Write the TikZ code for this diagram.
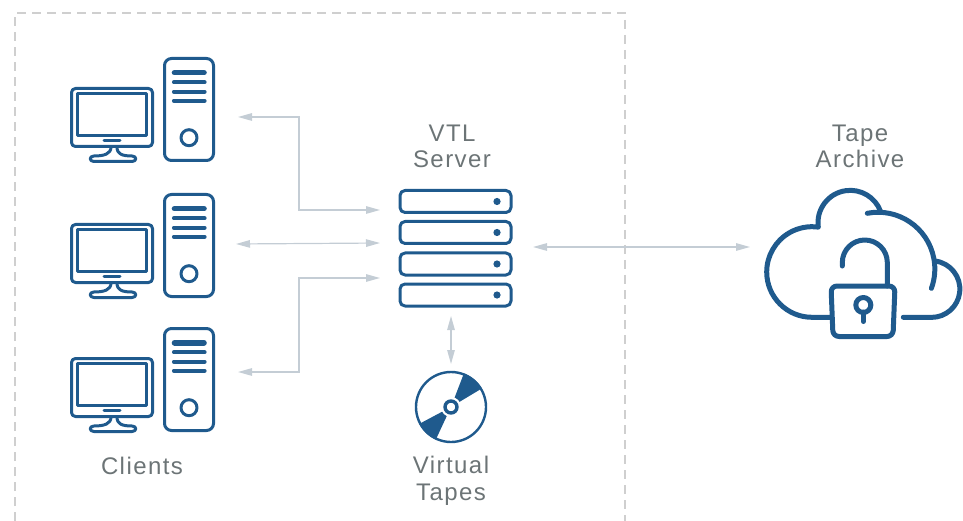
\documentclass[tikz,border=0pt]{standalone}
\usepackage{fontspec}
\setmainfont[LetterSpace=6]{Liberation Sans}
\usetikzlibrary{arrows.meta}
\definecolor{iconblue}{HTML}{1F5A8D}
\definecolor{linkgray}{HTML}{C4CDD5}
\definecolor{boxgray}{HTML}{CFCFCF}
\definecolor{labelgray}{HTML}{6C7476}
\tikzset{
  icon/.style={draw=iconblue,line width=3pt,line join=round,line cap=round},
  cloudline/.style={draw=iconblue,line width=5pt,line cap=round,line join=round},
  link/.style={draw=linkgray,line width=1.2pt,{Triangle[length=14pt,width=7.5pt]}-{Triangle[length=14pt,width=7.5pt]}},
  caption/.style={text=labelgray,font=\fontsize{24}{26}\selectfont,align=center,inner sep=0pt},
  client/.pic={
    \draw[icon,rounded corners=4pt] (71.5,88.5) rectangle (152.5,146.5);
    \draw[icon] (77.5,93.5) rectangle (146.5,135.5);
    \draw[icon] (104,140.5) -- (120,140.5);
    \draw[icon] (111,147) .. controls (111,154) and (104,156) .. (94,156)
      .. controls (89,156) and (89,161.5) .. (94,161.5) -- (132,161.5)
      .. controls (137,161.5) and (137,156) .. (132,156)
      .. controls (122,156) and (117,154) .. (117,147);
    \draw[icon,rounded corners=7pt] (164.5,58.5) rectangle (213.5,160.5);
    \draw[iconblue,line width=5.6pt,line cap=round] (174.5,72.7) -- (204,72.7);
    \foreach \bary in {82.3,91.7,100.7}
      \draw[iconblue,line width=4.2pt,line cap=round] (174,\bary) -- (204.5,\bary);
    \draw[icon] (189,137.7) circle (8);
  }
}
\begin{document}
\begin{tikzpicture}[x=1pt,y=-1pt]
\useasboundingbox (0,0) rectangle (963,521);
% dashed frame, open at the bottom
\draw[boxgray,line width=1.5pt,dash pattern=on 9pt off 6pt] (15,521) -- (15,13) -- (625,13) -- (625,521);
% clients
\foreach \rowy [count=\rowi] in {0,136,270}
  \pic (client\rowi) at (0,\rowy) {client};
\node[caption] (clients) at (142,466) {Clients};
% server
\foreach \racky [count=\racki] in {190.5,221.5,253,284}{
  \draw[icon,rounded corners=5pt] (400,\racky) rectangle (511,\racky+22);
  \fill[iconblue] (497,\racky+11) circle (3.6);
}
\node[caption] (server) at (452,146) {VTL\\Server};
% disc
\coordinate (disc) at (451,407);
\draw[iconblue,line width=2.4pt] (disc) circle (35);
\fill[iconblue] (disc) -- +(-31:36) arc[start angle=-31,end angle=-69,radius=36] -- cycle;
\fill[iconblue] (disc) -- +(152:36) arc[start angle=152,end angle=115,radius=36] -- cycle;
\fill[white] (disc) circle (10);
\draw[iconblue,line width=3.4pt] (disc) circle (6);
\node[caption] (tapes) at (451,481) {Virtual\\[1pt]Tapes};
% archive
\draw[cloudline] (831,317.3) -- (812,317.3) arc[start angle=90,end angle=278,radius=45.3]
  arc[start angle=172,end angle=339,radius=32.3];
\draw[cloudline] (867.3,213.3) arc[start angle=-101,end angle=20,radius=56.7];
\draw[cloudline] (935,261) arc[start angle=-83,end angle=90,radius=28.3] -- (903.3,317.3);
\draw[cloudline,rounded corners=6pt] (831,286) -- (895,286) -- (893,336.5) -- (833,336.5) -- cycle;
\draw[cloudline] (842.3,266) -- (842.3,262.5) arc[start angle=180,end angle=360,radius=22.5] -- (887.3,286);
\draw[cloudline] (863.3,305) circle (7.5);
\draw[cloudline] (863.3,312) -- (863.3,321.5);
\node[caption] (archive) at (860,146) {Tape\\Archive};
% links
\coordinate (c1) at (238,117);
\coordinate (c2) at (236,244);
\coordinate (c3) at (238,372);
\coordinate (s1) at (380,210);
\coordinate (s2) at (380,243);
\coordinate (s3) at (380,278);
\coordinate (sr) at (533,247);
\coordinate (ar) at (750,247);
\coordinate (sb) at (451,316);
\coordinate (dt) at (451,364);
\draw[link] (c1) -- (299,117) -- (299,210) -- (s1);
\draw[link] (c2) -- (s2);
\draw[link] (c3) -- (299,372) -- (299,278) -- (s3);
\draw[link] (sr) -- (ar);
\draw[link] (sb) -- (dt);
\end{tikzpicture}
\end{document}
